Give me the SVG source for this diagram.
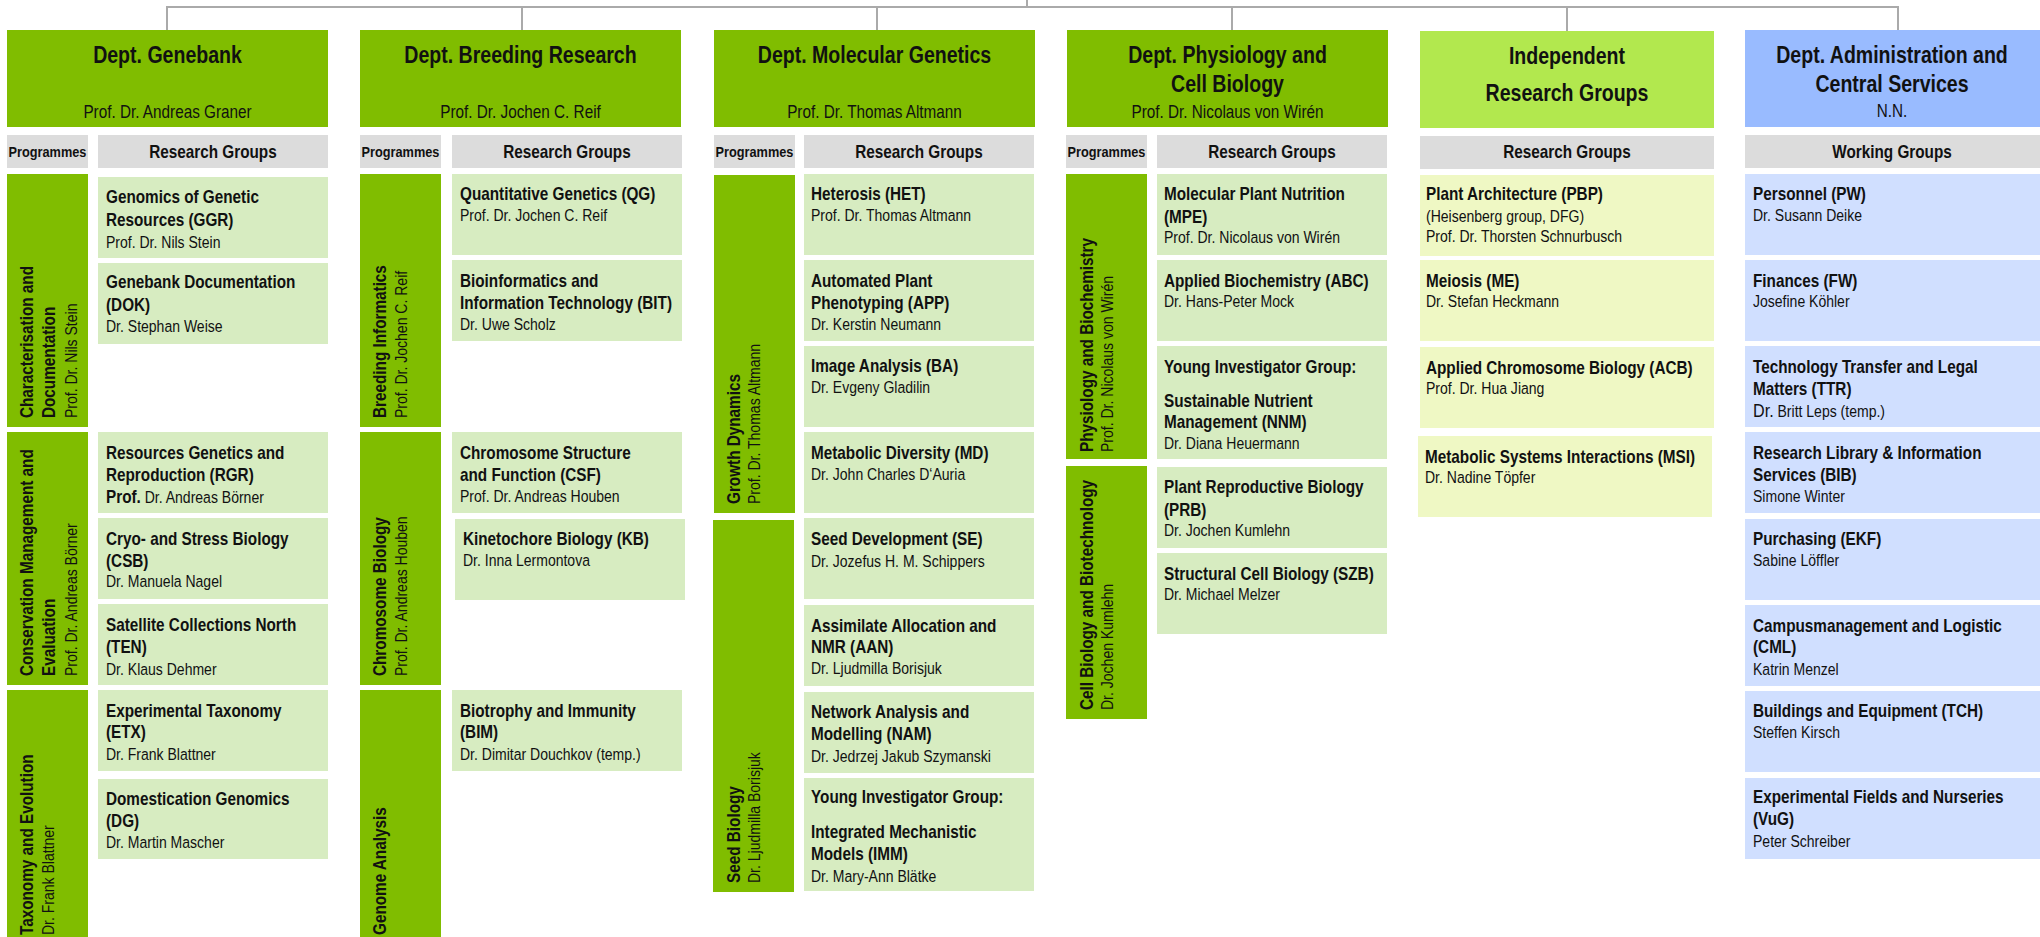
<svg xmlns="http://www.w3.org/2000/svg" width="2040" height="937" viewBox="0 0 2040 937">
<style>
text{font-family:"Liberation Sans",Arial,sans-serif;fill:#111}
.dg{fill:#80bd00}.gh{fill:#dcdcdc}.rb{fill:#d7ecc1}.ih{fill:#b2e84e}.ib{fill:#eff8c4}.ah{fill:#99bbff}.ab{fill:#d0dfff}
.t{font-size:23px;font-weight:bold;text-anchor:middle}
.tp{font-size:18px;text-anchor:middle}
.h{font-size:18px;font-weight:bold;text-anchor:middle}
.pg{font-size:15px;font-weight:bold;text-anchor:middle}
.n{font-size:18px;font-weight:bold}
.p{font-size:16.5px}
.v{font-size:18px;font-weight:bold}
.vp{font-size:16.5px}
.b{font-weight:bold}
.con{fill:none;stroke:#aaaaaa;stroke-width:2}
</style>
<g id="connectors">
<path class="con" d="M1027 0V7M167 31V7H1898V31M522 7V31M877 7V31M1232 7V31M1567 7V31"/>
</g>

<!-- Column 1: Genebank -->
<g id="dept-genebank">
<rect class="dg" x="7" y="30" width="321" height="97"/>
<text class="t" transform="translate(167.5 63)scale(.85 1)">Dept. Genebank</text>
<text class="tp" transform="translate(167.5 118)scale(.85 1)">Prof. Dr. Andreas Graner</text>
</g>
<g id="gb-programmes-head"><rect class="gh" x="7" y="135" width="81" height="33"/><text class="pg" transform="translate(47.5 157)scale(.85 1)">Programmes</text></g>
<g id="gb-groups-head"><rect class="gh" x="98" y="135" width="230" height="33"/><text class="h" transform="translate(213 158)scale(.85 1)">Research Groups</text></g>
<g id="gb-prog-char"><rect class="dg" x="7" y="174" width="81" height="253"/>
<text class="v" transform="translate(33 418)rotate(-90)scale(.85 1)">Characterisation and</text>
<text class="v" transform="translate(55 418)rotate(-90)scale(.85 1)">Documentation</text>
<text class="vp" transform="translate(77 418)rotate(-90)scale(.85 1)">Prof. Dr. Nils Stein</text></g>
<g id="gb-prog-cons"><rect class="dg" x="7" y="432" width="81" height="253"/>
<text class="v" transform="translate(33 676)rotate(-90)scale(.85 1)">Conservation Management and</text>
<text class="v" transform="translate(55 676)rotate(-90)scale(.85 1)">Evaluation</text>
<text class="vp" transform="translate(77 676)rotate(-90)scale(.85 1)">Prof. Dr. Andreas Börner</text></g>
<g id="gb-prog-tax"><rect class="dg" x="7" y="690" width="81" height="253"/>
<text class="v" transform="translate(33 935)rotate(-90)scale(.85 1)">Taxonomy and Evolution</text>
<text class="vp" transform="translate(54 935)rotate(-90)scale(.85 1)">Dr. Frank Blattner</text></g>
<g id="ggr"><rect class="rb" x="98" y="177" width="230" height="81"/>
<text class="n" transform="translate(106 203)scale(.85 1)">Genomics of Genetic</text><text class="n" transform="translate(106 226)scale(.85 1)">Resources (GGR)</text><text class="p" transform="translate(106 248)scale(.85 1)">Prof. Dr. Nils Stein</text></g>
<g id="dok"><rect class="rb" x="98" y="263" width="230" height="81"/>
<text class="n" transform="translate(106 288)scale(.85 1)">Genebank Documentation</text><text class="n" transform="translate(106 311)scale(.85 1)">(DOK)</text><text class="p" transform="translate(106 332)scale(.85 1)">Dr. Stephan Weise</text></g>
<g id="rgr"><rect class="rb" x="98" y="432" width="230" height="81"/>
<text class="n" transform="translate(106 459)scale(.85 1)">Resources Genetics and</text><text class="n" transform="translate(106 481)scale(.85 1)">Reproduction (RGR)</text><text class="p" transform="translate(106 503)scale(.85 1)"><tspan class="b" font-size="18">Prof.</tspan> Dr. Andreas Börner</text></g>
<g id="csb"><rect class="rb" x="98" y="518" width="230" height="81"/>
<text class="n" transform="translate(106 545)scale(.85 1)">Cryo- and Stress Biology</text><text class="n" transform="translate(106 567)scale(.85 1)">(CSB)</text><text class="p" transform="translate(106 587)scale(.85 1)">Dr. Manuela Nagel</text></g>
<g id="ten"><rect class="rb" x="98" y="604" width="230" height="81"/>
<text class="n" transform="translate(106 631)scale(.85 1)">Satellite Collections North</text><text class="n" transform="translate(106 653)scale(.85 1)">(TEN)</text><text class="p" transform="translate(106 675)scale(.85 1)">Dr. Klaus Dehmer</text></g>
<g id="etx"><rect class="rb" x="98" y="690" width="230" height="81"/>
<text class="n" transform="translate(106 717)scale(.85 1)">Experimental Taxonomy</text><text class="n" transform="translate(106 738)scale(.85 1)">(ETX)</text><text class="p" transform="translate(106 760)scale(.85 1)">Dr. Frank Blattner</text></g>
<g id="dg-group"><rect class="rb" x="98" y="779" width="230" height="80"/>
<text class="n" transform="translate(106 805)scale(.85 1)">Domestication Genomics</text><text class="n" transform="translate(106 827)scale(.85 1)">(DG)</text><text class="p" transform="translate(106 848)scale(.85 1)">Dr. Martin Mascher</text></g>

<!-- Column 2: Breeding Research -->
<g id="dept-breeding">
<rect class="dg" x="360" y="30" width="321" height="97"/>
<text class="t" transform="translate(520.5 63)scale(.85 1)">Dept. Breeding Research</text>
<text class="tp" transform="translate(520.5 118)scale(.85 1)">Prof. Dr. Jochen C. Reif</text>
</g>
<g id="br-programmes-head"><rect class="gh" x="360" y="135" width="81" height="33"/><text class="pg" transform="translate(400.5 157)scale(.85 1)">Programmes</text></g>
<g id="br-groups-head"><rect class="gh" x="452" y="135" width="230" height="33"/><text class="h" transform="translate(567 158)scale(.85 1)">Research Groups</text></g>
<g id="br-prog-inf"><rect class="dg" x="360" y="174" width="81" height="253"/>
<text class="v" transform="translate(386 418)rotate(-90)scale(.85 1)">Breeding Informatics</text>
<text class="vp" transform="translate(407 418)rotate(-90)scale(.85 1)">Prof. Dr. Jochen C. Reif</text></g>
<g id="br-prog-chr"><rect class="dg" x="360" y="432" width="81" height="253"/>
<text class="v" transform="translate(386 676)rotate(-90)scale(.85 1)">Chromosome Biology</text>
<text class="vp" transform="translate(407 676)rotate(-90)scale(.85 1)">Prof. Dr. Andreas Houben</text></g>
<g id="br-prog-gen"><rect class="dg" x="360" y="690" width="81" height="253"/>
<text class="v" transform="translate(386 935)rotate(-90)scale(.85 1)">Genome Analysis</text></g>
<g id="qg"><rect class="rb" x="452" y="174" width="230" height="81"/>
<text class="n" transform="translate(460 200)scale(.85 1)">Quantitative Genetics (QG)</text><text class="p" transform="translate(460 221)scale(.85 1)">Prof. Dr. Jochen C. Reif</text></g>
<g id="bit"><rect class="rb" x="452" y="260" width="230" height="81"/>
<text class="n" transform="translate(460 287)scale(.85 1)">Bioinformatics and</text><text class="n" transform="translate(460 309)scale(.85 1)">Information Technology (BIT)</text><text class="p" transform="translate(460 330)scale(.85 1)">Dr. Uwe Scholz</text></g>
<g id="csf"><rect class="rb" x="452" y="432" width="230" height="81"/>
<text class="n" transform="translate(460 459)scale(.85 1)">Chromosome Structure</text><text class="n" transform="translate(460 481)scale(.85 1)">and Function (CSF)</text><text class="p" transform="translate(460 502)scale(.85 1)">Prof. Dr. Andreas Houben</text></g>
<g id="kb"><rect class="rb" x="455" y="519" width="230" height="81"/>
<text class="n" transform="translate(463 545)scale(.85 1)">Kinetochore Biology (KB)</text><text class="p" transform="translate(463 566)scale(.85 1)">Dr. Inna Lermontova</text></g>
<g id="bim"><rect class="rb" x="452" y="690" width="230" height="81"/>
<text class="n" transform="translate(460 717)scale(.85 1)">Biotrophy and Immunity</text><text class="n" transform="translate(460 738)scale(.85 1)">(BIM)</text><text class="p" transform="translate(460 760)scale(.85 1)">Dr. Dimitar Douchkov (temp.)</text></g>

<!-- Column 3: Molecular Genetics -->
<g id="dept-molecular">
<rect class="dg" x="714" y="30" width="321" height="97"/>
<text class="t" transform="translate(874.5 63)scale(.85 1)">Dept. Molecular Genetics</text>
<text class="tp" transform="translate(874.5 118)scale(.85 1)">Prof. Dr. Thomas Altmann</text>
</g>
<g id="mg-programmes-head"><rect class="gh" x="714" y="135" width="81" height="33"/><text class="pg" transform="translate(754.5 157)scale(.85 1)">Programmes</text></g>
<g id="mg-groups-head"><rect class="gh" x="804" y="135" width="230" height="33"/><text class="h" transform="translate(919 158)scale(.85 1)">Research Groups</text></g>
<g id="mg-prog-growth"><rect class="dg" x="714" y="175" width="81" height="338"/>
<text class="v" transform="translate(740 504)rotate(-90)scale(.85 1)">Growth Dynamics</text>
<text class="vp" transform="translate(760 504)rotate(-90)scale(.85 1)">Prof. Dr. Thomas Altmann</text></g>
<g id="mg-prog-seed"><rect class="dg" x="713" y="520" width="81" height="372"/>
<text class="v" transform="translate(740 883)rotate(-90)scale(.85 1)">Seed Biology</text>
<text class="vp" transform="translate(760 883)rotate(-90)scale(.85 1)">Dr. Ljudmilla Borisjuk</text></g>
<g id="het"><rect class="rb" x="804" y="174" width="230" height="81"/>
<text class="n" transform="translate(811 200)scale(.85 1)">Heterosis (HET)</text><text class="p" transform="translate(811 221)scale(.85 1)">Prof. Dr. Thomas Altmann</text></g>
<g id="app"><rect class="rb" x="804" y="260" width="230" height="81"/>
<text class="n" transform="translate(811 287)scale(.85 1)">Automated Plant</text><text class="n" transform="translate(811 309)scale(.85 1)">Phenotyping (APP)</text><text class="p" transform="translate(811 330)scale(.85 1)">Dr. Kerstin Neumann</text></g>
<g id="ba"><rect class="rb" x="804" y="346" width="230" height="81"/>
<text class="n" transform="translate(811 372)scale(.85 1)">Image Analysis (BA)</text><text class="p" transform="translate(811 393)scale(.85 1)">Dr. Evgeny Gladilin</text></g>
<g id="md"><rect class="rb" x="804" y="432" width="230" height="81"/>
<text class="n" transform="translate(811 459)scale(.85 1)">Metabolic Diversity (MD)</text><text class="p" transform="translate(811 480)scale(.85 1)">Dr. John Charles D‘Auria</text></g>
<g id="se"><rect class="rb" x="804" y="518" width="230" height="81"/>
<text class="n" transform="translate(811 545)scale(.85 1)">Seed Development (SE)</text><text class="p" transform="translate(811 567)scale(.85 1)">Dr. Jozefus H. M. Schippers</text></g>
<g id="aan"><rect class="rb" x="804" y="605" width="230" height="81"/>
<text class="n" transform="translate(811 632)scale(.85 1)">Assimilate Allocation and</text><text class="n" transform="translate(811 653)scale(.85 1)">NMR (AAN)</text><text class="p" transform="translate(811 674)scale(.85 1)">Dr. Ljudmilla Borisjuk</text></g>
<g id="nam"><rect class="rb" x="804" y="692" width="230" height="81"/>
<text class="n" transform="translate(811 718)scale(.85 1)">Network Analysis and</text><text class="n" transform="translate(811 740)scale(.85 1)">Modelling (NAM)</text><text class="p" transform="translate(811 762)scale(.85 1)">Dr. Jedrzej Jakub Szymanski</text></g>
<g id="imm"><rect class="rb" x="804" y="778" width="230" height="113"/>
<text class="n" transform="translate(811 803)scale(.85 1)">Young Investigator Group:</text><text class="n" transform="translate(811 838)scale(.85 1)">Integrated Mechanistic</text><text class="n" transform="translate(811 860)scale(.85 1)">Models (IMM)</text><text class="p" transform="translate(811 882)scale(.85 1)">Dr. Mary-Ann Blätke</text></g>

<!-- Column 4: Physiology and Cell Biology -->
<g id="dept-physiology">
<rect class="dg" x="1067" y="30" width="321" height="97"/>
<text class="t" transform="translate(1227.5 63)scale(.85 1)">Dept. Physiology and</text>
<text class="t" transform="translate(1227.5 92)scale(.85 1)">Cell Biology</text>
<text class="tp" transform="translate(1227.5 118)scale(.85 1)">Prof. Dr. Nicolaus von Wirén</text>
</g>
<g id="pc-programmes-head"><rect class="gh" x="1066" y="135" width="81" height="33"/><text class="pg" transform="translate(1106.5 157)scale(.85 1)">Programmes</text></g>
<g id="pc-groups-head"><rect class="gh" x="1157" y="135" width="230" height="33"/><text class="h" transform="translate(1272 158)scale(.85 1)">Research Groups</text></g>
<g id="pc-prog-phys"><rect class="dg" x="1066" y="174" width="81" height="285"/>
<text class="v" transform="translate(1093 452)rotate(-90)scale(.85 1)">Physiology and Biochemistry</text>
<text class="vp" transform="translate(1113 452)rotate(-90)scale(.85 1)">Prof. Dr. Nicolaus von Wirén</text></g>
<g id="pc-prog-cell"><rect class="dg" x="1066" y="466" width="81" height="253"/>
<text class="v" transform="translate(1093 710)rotate(-90)scale(.85 1)">Cell Biology and Biotechnology</text>
<text class="vp" transform="translate(1113 710)rotate(-90)scale(.85 1)">Dr. Jochen Kumlehn</text></g>
<g id="mpe"><rect class="rb" x="1157" y="174" width="230" height="81"/>
<text class="n" transform="translate(1164 200)scale(.85 1)">Molecular Plant Nutrition</text><text class="n" transform="translate(1164 223)scale(.85 1)">(MPE)</text><text class="p" transform="translate(1164 243)scale(.85 1)">Prof. Dr. Nicolaus von Wirén</text></g>
<g id="abc"><rect class="rb" x="1157" y="260" width="230" height="81"/>
<text class="n" transform="translate(1164 287)scale(.85 1)">Applied Biochemistry (ABC)</text><text class="p" transform="translate(1164 307)scale(.85 1)">Dr. Hans-Peter Mock</text></g>
<g id="nnm"><rect class="rb" x="1157" y="346" width="230" height="113"/>
<text class="n" transform="translate(1164 373)scale(.85 1)">Young Investigator Group:</text><text class="n" transform="translate(1164 407)scale(.85 1)">Sustainable Nutrient</text><text class="n" transform="translate(1164 428)scale(.85 1)">Management (NNM)</text><text class="p" transform="translate(1164 449)scale(.85 1)">Dr. Diana Heuermann</text></g>
<g id="prb"><rect class="rb" x="1157" y="467" width="230" height="81"/>
<text class="n" transform="translate(1164 493)scale(.85 1)">Plant Reproductive Biology</text><text class="n" transform="translate(1164 516)scale(.85 1)">(PRB)</text><text class="p" transform="translate(1164 536)scale(.85 1)">Dr. Jochen Kumlehn</text></g>
<g id="szb"><rect class="rb" x="1157" y="553" width="230" height="81"/>
<text class="n" transform="translate(1164 580)scale(.85 1)">Structural Cell Biology (SZB)</text><text class="p" transform="translate(1164 600)scale(.85 1)">Dr. Michael Melzer</text></g>

<!-- Column 5: Independent Research Groups -->
<g id="independent">
<rect class="ih" x="1420" y="31" width="294" height="97"/>
<text class="t" transform="translate(1567 64)scale(.85 1)">Independent</text>
<text class="t" transform="translate(1567 101)scale(.85 1)">Research Groups</text>
</g>
<g id="ind-groups-head"><rect class="gh" x="1420" y="136" width="294" height="33"/><text class="h" transform="translate(1567 158)scale(.85 1)">Research Groups</text></g>
<g id="pbp"><rect class="ib" x="1420" y="175" width="294" height="81"/>
<text class="n" transform="translate(1426 200)scale(.85 1)">Plant Architecture (PBP)</text><text class="p" transform="translate(1426 222)scale(.85 1)">(Heisenberg group, DFG)</text><text class="p" transform="translate(1426 242)scale(.85 1)">Prof. Dr. Thorsten Schnurbusch</text></g>
<g id="me"><rect class="ib" x="1420" y="260" width="294" height="81"/>
<text class="n" transform="translate(1426 287)scale(.85 1)">Meiosis (ME)</text><text class="p" transform="translate(1426 307)scale(.85 1)">Dr. Stefan Heckmann</text></g>
<g id="acb"><rect class="ib" x="1420" y="347" width="294" height="81"/>
<text class="n" transform="translate(1426 374)scale(.85 1)">Applied Chromosome Biology  (ACB)</text><text class="p" transform="translate(1426 394)scale(.85 1)">Prof. Dr. Hua Jiang</text></g>
<g id="msi"><rect class="ib" x="1418" y="436" width="294" height="81"/>
<text class="n" transform="translate(1425 463)scale(.85 1)">Metabolic Systems Interactions (MSI)</text><text class="p" transform="translate(1425 483)scale(.85 1)">Dr. Nadine Töpfer</text></g>

<!-- Column 6: Administration -->
<g id="dept-admin">
<rect class="ah" x="1745" y="30" width="295" height="97"/>
<text class="t" transform="translate(1892 63)scale(.85 1)">Dept. Administration and</text>
<text class="t" transform="translate(1892 92)scale(.85 1)">Central Services</text>
<text class="tp" transform="translate(1892 117)scale(.85 1)">N.N.</text>
</g>
<g id="adm-groups-head"><rect class="gh" x="1745" y="135" width="295" height="33"/><text class="h" transform="translate(1892 158)scale(.85 1)">Working Groups</text></g>
<g id="pw"><rect class="ab" x="1745" y="174" width="295" height="81"/>
<text class="n" transform="translate(1753 200)scale(.85 1)">Personnel (PW)</text><text class="p" transform="translate(1753 221)scale(.85 1)">Dr. Susann Deike</text></g>
<g id="fw"><rect class="ab" x="1745" y="260" width="295" height="81"/>
<text class="n" transform="translate(1753 287)scale(.85 1)">Finances (FW)</text><text class="p" transform="translate(1753 307)scale(.85 1)">Josefine Köhler</text></g>
<g id="ttr"><rect class="ab" x="1745" y="346" width="295" height="81"/>
<text class="n" transform="translate(1753 373)scale(.85 1)">Technology Transfer and Legal</text><text class="n" transform="translate(1753 395)scale(.85 1)">Matters (TTR)</text><text class="p" transform="translate(1753 417)scale(.85 1)"><tspan font-size="19">Dr.</tspan> Britt Leps (temp.)</text></g>
<g id="bib"><rect class="ab" x="1745" y="432" width="295" height="81"/>
<text class="n" transform="translate(1753 459)scale(.85 1)">Research Library &amp; Information</text><text class="n" transform="translate(1753 481)scale(.85 1)">Services (BIB)</text><text class="p" transform="translate(1753 502)scale(.85 1)">Simone Winter</text></g>
<g id="ekf"><rect class="ab" x="1745" y="519" width="295" height="81"/>
<text class="n" transform="translate(1753 545)scale(.85 1)">Purchasing (EKF)</text><text class="p" transform="translate(1753 566)scale(.85 1)">Sabine Löffler</text></g>
<g id="cml"><rect class="ab" x="1745" y="605" width="295" height="81"/>
<text class="n" transform="translate(1753 632)scale(.85 1)">Campusmanagement and Logistic</text><text class="n" transform="translate(1753 653)scale(.85 1)">(CML)</text><text class="p" transform="translate(1753 675)scale(.85 1)">Katrin Menzel</text></g>
<g id="tch"><rect class="ab" x="1745" y="691" width="295" height="81"/>
<text class="n" transform="translate(1753 717)scale(.85 1)">Buildings and Equipment (TCH)</text><text class="p" transform="translate(1753 738)scale(.85 1)">Steffen Kirsch</text></g>
<g id="vug"><rect class="ab" x="1745" y="778" width="295" height="81"/>
<text class="n" transform="translate(1753 803)scale(.85 1)">Experimental Fields and Nurseries</text><text class="n" transform="translate(1753 825)scale(.85 1)">(VuG)</text><text class="p" transform="translate(1753 847)scale(.85 1)">Peter Schreiber</text></g>
</svg>
